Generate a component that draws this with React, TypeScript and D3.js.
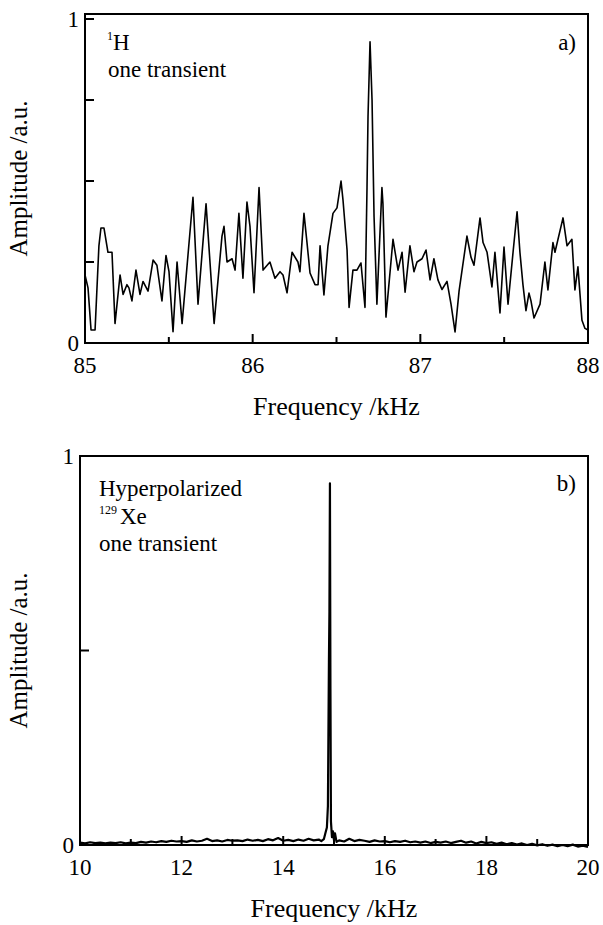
import React from 'react';
import * as d3 from 'd3';

// Panel a: 1H spectrum (kHz, a.u.)
const aFreq = [85.000,85.018,85.036,85.060,85.083,85.095,85.113,85.137,85.161,85.179,85.209,85.227,85.250,85.262,85.280,85.304,85.328,85.346,85.376,85.406,85.429,85.459,85.483,85.501,85.525,85.549,85.579,85.644,85.674,85.722,85.770,85.817,85.829,85.847,85.877,85.895,85.918,85.942,85.966,85.984,86.008,86.038,86.062,86.103,86.133,86.163,86.181,86.205,86.235,86.270,86.282,86.306,86.324,86.342,86.372,86.390,86.402,86.425,86.449,86.479,86.503,86.527,86.539,86.563,86.575,86.598,86.622,86.646,86.670,86.682,86.688,86.700,86.712,86.724,86.741,86.771,86.777,86.795,86.837,86.867,86.891,86.909,86.938,86.962,86.980,87.010,87.034,87.058,87.081,87.105,87.129,87.159,87.183,87.207,87.231,87.278,87.302,87.320,87.356,87.374,87.398,87.427,87.445,87.475,87.499,87.523,87.553,87.577,87.594,87.612,87.630,87.648,87.660,87.678,87.714,87.743,87.761,87.791,87.803,87.851,87.875,87.904,87.922,87.940,87.964,87.982,88.000];
const aAmp = [0.21,0.17,0.04,0.04,0.30,0.355,0.355,0.28,0.28,0.06,0.21,0.15,0.18,0.17,0.13,0.225,0.15,0.19,0.16,0.256,0.24,0.13,0.27,0.22,0.035,0.25,0.06,0.45,0.12,0.43,0.06,0.33,0.36,0.25,0.26,0.225,0.40,0.20,0.435,0.36,0.155,0.48,0.225,0.25,0.20,0.22,0.21,0.155,0.28,0.25,0.22,0.40,0.31,0.216,0.18,0.18,0.30,0.148,0.30,0.40,0.417,0.50,0.44,0.287,0.11,0.225,0.225,0.247,0.11,0.48,0.70,0.93,0.75,0.39,0.12,0.48,0.43,0.08,0.32,0.225,0.28,0.157,0.30,0.22,0.25,0.26,0.287,0.195,0.26,0.195,0.165,0.19,0.12,0.034,0.16,0.33,0.265,0.24,0.386,0.31,0.28,0.173,0.28,0.093,0.296,0.12,0.28,0.405,0.28,0.18,0.10,0.154,0.13,0.077,0.12,0.25,0.164,0.31,0.28,0.386,0.30,0.32,0.164,0.235,0.07,0.045,0.04];

// Panel b: hyperpolarized 129Xe spectrum
const bFreq = [10.0,10.1,10.2,10.3,10.4,10.5,10.6,10.7,10.8,10.9,11.0,11.1,11.2,11.3,11.4,11.5,11.6,11.7,11.8,11.9,12.0,12.1,12.2,12.3,12.4,12.5,12.6,12.7,12.8,12.9,13.0,13.1,13.2,13.3,13.4,13.5,13.6,13.7,13.8,13.9,14.0,14.1,14.2,14.3,14.4,14.5,14.6,14.7,14.75,14.8,14.83,14.86,14.88,14.9,14.91,14.92,14.93,14.94,14.96,14.98,15.0,15.02,15.05,15.1,15.2,15.3,15.4,15.5,15.6,15.7,15.8,15.9,16.0,16.1,16.2,16.3,16.4,16.5,16.6,16.7,16.8,16.9,17.0,17.1,17.2,17.3,17.4,17.5,17.6,17.7,17.8,17.9,18.0,18.1,18.2,18.3,18.4,18.5,18.6,18.7,18.8,18.9,19.0,19.1,19.2,19.3,19.4,19.5,19.6,19.7,19.8,19.9,20.0];
const bAmp = [0.006,0.004,0.007,0.005,0.006,0.004,0.006,0.005,0.007,0.004,0.006,0.005,0.008,0.006,0.009,0.007,0.010,0.008,0.011,0.009,0.010,0.008,0.012,0.009,0.011,0.016,0.010,0.012,0.009,0.013,0.011,0.012,0.010,0.014,0.011,0.013,0.010,0.015,0.012,0.018,0.011,0.013,0.010,0.014,0.011,0.016,0.012,0.014,0.010,0.015,0.030,0.045,0.10,0.47,0.60,0.93,0.40,0.06,0.020,0.035,0.012,0.030,0.008,0.012,0.009,0.016,0.010,0.013,0.011,0.008,0.012,0.009,0.010,0.007,0.010,0.008,0.011,0.007,0.009,0.006,0.009,0.005,0.008,0.006,0.009,0.005,0.008,0.011,0.006,0.009,0.004,0.008,0.005,0.007,0.003,0.006,0.002,0.005,0.001,0.004,0.000,0.003,-0.001,0.002,-0.002,0.001,-0.003,0.000,-0.003,0.001,-0.004,-0.002,-0.005];

const aMajor = [85, 86, 87, 88];
const aMinor = [85.5, 86.5, 87.5];
const aYTicks = [0, 0.25, 0.5, 0.75, 1];
const aYLabels = [0, 1];
const bMajor = [10, 12, 14, 16, 18, 20];
const bMinor = [11, 13, 15, 17, 19];
const bYTicks = [0, 0.5, 1];
const bYLabels = [0, 1];

const FONT = "'Liberation Serif', 'DejaVu Serif', serif";
const ts = (size: number): React.CSSProperties => ({ fontFamily: FONT, fontSize: size + 'px' });

function Panel(props: any) {
  const { freq, amp, xDom, left, right, top, y0, y1, major, minor, yTicks, yLabels, lw, children } = props;
  const x = d3.scaleLinear().domain(xDom).range([left, right]);
  const y = d3.scaleLinear().domain([0, 1]).range([y0, y1]);
  const pts = freq.map((f: number, i: number) => [f, amp[i]] as [number, number]);
  const line = d3.line<[number, number]>().x(d => x(d[0])).y(d => y(d[1]));
  const bottom = y0;
  return (
    <g fill="#000">
      <path d={line(pts) || ''} fill="none" stroke="#000" strokeWidth={lw} strokeLinejoin="round" />
      <rect x={left} y={top} width={right - left} height={bottom - top} fill="none" stroke="#000" strokeWidth={2} />
      {major.map((t: number) => (
        <g key={'M' + t}>
          <line x1={x(t)} x2={x(t)} y1={bottom} y2={bottom - 9} stroke="#000" strokeWidth={2} />
          <text x={x(t)} y={bottom + 30} style={ts(23)} textAnchor="middle">{t}</text>
        </g>
      ))}
      {minor.map((t: number) => (
        <line key={'m' + t} x1={x(t)} x2={x(t)} y1={bottom} y2={bottom - 6} stroke="#000" strokeWidth={2} />
      ))}
      {yTicks.map((t: number) => (
        <line key={'y' + t} x1={left} x2={left + 9} y1={y(t)} y2={y(t)} stroke="#000" strokeWidth={2} />
      ))}
      {yLabels.map((t: number) => (
        <text key={'yl' + t} x={left - 6} y={y(t) + 8} style={ts(23)} textAnchor="end">{t}</text>
      ))}
      <text x={(left + right) / 2} y={bottom + 72} style={ts(26)} textAnchor="middle">Frequency /kHz</text>
      <text transform={`translate(27,${(top + bottom) / 2}) rotate(-90)`} style={ts(25)} textAnchor="middle">Amplitude /a.u.</text>
      {children}
    </g>
  );
}

export default function App() {
  return (
    <div style={{ position: 'absolute', left: 0, top: 0, background: '#fff' }}>
      <svg width={603} height={925} viewBox="0 0 603 925" style={{ display: 'block' }}>
        <rect width={603} height={925} fill="#fff" />
        <Panel freq={aFreq} amp={aAmp} xDom={[85, 88]} left={85} right={588} top={14} y0={343} y1={19}
          major={aMajor} minor={aMinor} yTicks={aYTicks} yLabels={aYLabels} lw={1.6}>
          <text style={ts(23)} x={107} y={50}>
            <tspan style={ts(12)} dy={-10}>1</tspan><tspan dy={10}>H</tspan>
          </text>
          <text style={ts(23)} x={108} y={77}>one transient</text>
          <text style={ts(23)} x={576} y={50} textAnchor="end">a)</text>
        </Panel>
        <Panel freq={bFreq} amp={bAmp} xDom={[10, 20]} left={80} right={588} top={456} y0={845} y1={456}
          major={bMajor} minor={bMinor} yTicks={bYTicks} yLabels={bYLabels} lw={2.2}>
          <text style={ts(23)} x={99} y={496}>Hyperpolarized</text>
          <text style={ts(23)} x={99} y={524}>
            <tspan style={ts(12)} dy={-10}>129</tspan><tspan dx={3} dy={10}>Xe</tspan>
          </text>
          <text style={ts(23)} x={99} y={551}>one transient</text>
          <text style={ts(23)} x={576} y={491} textAnchor="end">b)</text>
        </Panel>
      </svg>
    </div>
  );
}
